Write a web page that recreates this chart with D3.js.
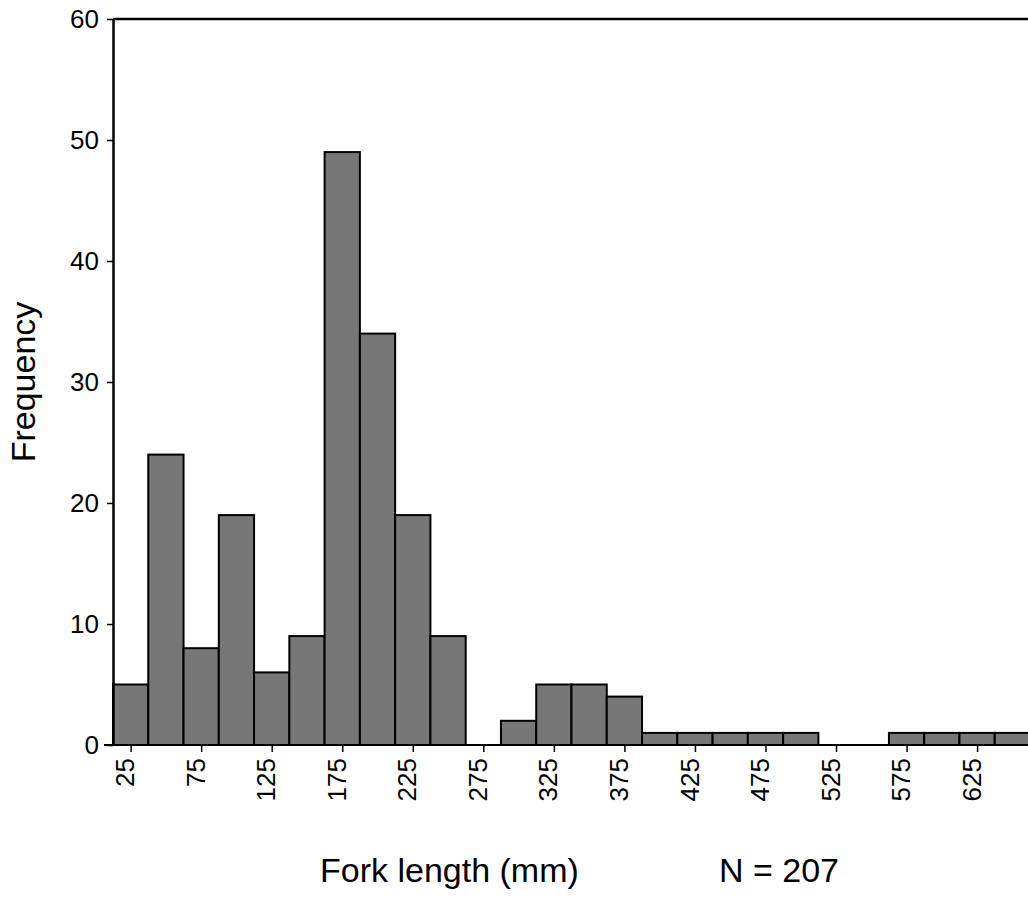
<!DOCTYPE html>
<html>
<head>
<meta charset="utf-8">
<script src="https://cdn.jsdelivr.net/npm/d3@7"></script>
<style>
  html, body { margin: 0; padding: 0; background: #fff; }
  svg { display: block; font-family: "Liberation Sans", Arial, sans-serif; }
</style>
</head>
<body>
<svg id="chart" width="1028" height="897"></svg>
<script>
// Bin centres (mm), 25 mm bins
const binCenters = [25, 50, 75, 100, 125, 150, 175, 200, 225, 250, 275, 300, 325,
                    350, 375, 400, 425, 450, 475, 500, 525, 550, 575, 600, 625, 650];
const frequencies = [5, 24, 8, 19, 6, 9, 49, 34, 19, 9, 0, 2, 5,
                     5, 4, 1, 1, 1, 1, 1, 0, 0, 1, 1, 1, 1];
const xTickValues = [25, 75, 125, 175, 225, 275, 325, 375, 425, 475, 525, 575, 625];
const yTickValues = [0, 10, 20, 30, 40, 50, 60];
const xTitle = "Fork length (mm)";
const yTitle = "Frequency";
const nLabel = "N = 207";
const binWidth = 25;

const FONT = "Liberation Sans, Arial, sans-serif";
const svg = d3.select("#chart");
const x = d3.scaleLinear().domain([12.5, 662.5]).range([113, 1030]);
const y = d3.scaleLinear().domain([0, 60]).range([745, 19]);

const data = binCenters.map((c, i) => ({ c, v: frequencies[i] }));

// bars
svg.append("g").selectAll("rect")
  .data(data.filter(d => d.v > 0))
  .join("rect")
  .attr("x", d => x(d.c - binWidth / 2))
  .attr("width", d => x(d.c + binWidth / 2) - x(d.c - binWidth / 2))
  .attr("y", d => y(d.v))
  .attr("height", d => y(0) - y(d.v))
  .attr("fill", "#777777")
  .attr("stroke", "#000")
  .attr("stroke-width", 2);

// top frame line
svg.append("line")
  .attr("x1", x(12.5)).attr("x2", 1028)
  .attr("y1", y(60)).attr("y2", y(60))
  .attr("stroke", "#000").attr("stroke-width", 2.5);

// baseline
svg.append("line")
  .attr("x1", x(12.5) - 9).attr("x2", 1028)
  .attr("y1", y(0)).attr("y2", y(0))
  .attr("stroke", "#000").attr("stroke-width", 2);

// y axis
const yAxis = svg.append("g")
  .attr("transform", `translate(${x(12.5)},0)`)
  .call(d3.axisLeft(y).tickValues(yTickValues).tickSize(6).tickSizeOuter(0).tickPadding(8));
yAxis.select(".domain").attr("stroke-width", 2.5);
yAxis.selectAll(".tick line").attr("stroke-width", 1.5);
yAxis.selectAll("text").attr("font-size", 26).attr("fill", "#000")
  .attr("font-family", FONT);

// x axis
const xAxis = svg.append("g")
  .attr("transform", `translate(0,${y(0)})`)
  .call(d3.axisBottom(x).tickValues(xTickValues).tickSize(7).tickSizeOuter(0));
xAxis.select(".domain").remove();
xAxis.selectAll(".tick line").attr("stroke-width", 1.5);
xAxis.selectAll("text")
  .attr("font-size", 26).attr("fill", "#000")
  .attr("font-family", FONT)
  .attr("text-anchor", "end")
  .attr("transform", "rotate(-90)")
  .attr("x", -13).attr("y", 0).attr("dy", "0.12em");

// titles
svg.append("text")
  .attr("transform", `translate(35,382) rotate(-90)`)
  .attr("text-anchor", "middle")
  .attr("font-size", 34)
  .attr("font-family", FONT)
  .text(yTitle);

svg.append("text")
  .attr("x", 320).attr("y", 882)
  .attr("font-size", 34)
  .attr("font-family", FONT)
  .text(xTitle);

svg.append("text")
  .attr("x", 719).attr("y", 882)
  .attr("font-size", 34)
  .attr("font-family", FONT)
  .text(nLabel);
</script>
</body>
</html>
